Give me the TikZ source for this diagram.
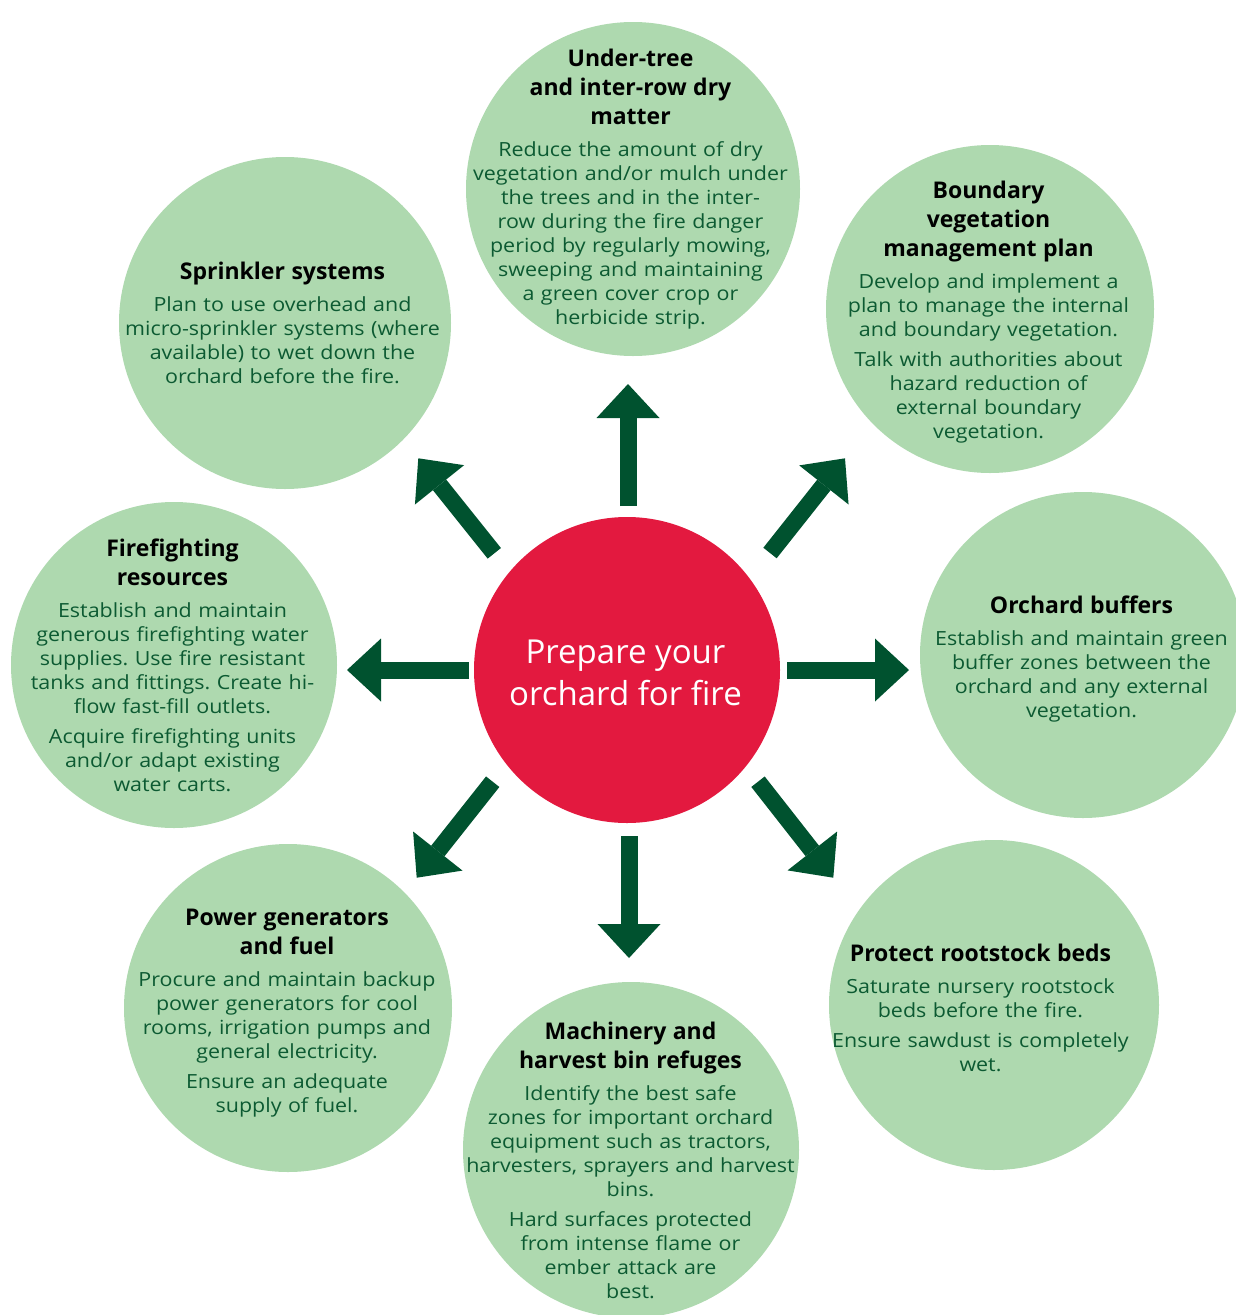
\documentclass[tikz,border=0pt]{standalone}
\usepackage{fontspec}
\setmainfont{Open Sans}
\newfontfamily\bodyface[FakeStretch=1.1]{Open Sans}
\usetikzlibrary{arrows.meta}
\definecolor{leafgreen}{HTML}{AED9AF}
\definecolor{arrowgreen}{HTML}{00522F}
\definecolor{bodygreen}{HTML}{0C5A32}
\definecolor{firered}{HTML}{E3193F}
\setlength\parindent{0pt}
\frenchspacing
\newcommand\bodyfont{\bodyface\fontsize{19.5}{24}\selectfont}
\newcommand\hd[1]{{\normalfont\fontsize{23}{29}\selectfont\bfseries\color{black}#1\par}\vspace{8pt}}
\newcommand\pgap{\par\vspace{6pt}}
\tikzset{
  bubble/.style={circle, fill=leafgreen, inner sep=0pt, minimum size=#1},
  hub/.style={circle, fill=firered, inner sep=0pt, minimum size=306pt},
  blurb/.style={text width=420pt, align=center, inner sep=0pt, text=bodygreen, font=\bodyfont},
  bigarrow/.style={draw=arrowgreen, line width=17pt,
    -{Triangle[width=63pt, length=34pt, line width=0pt]}},
}
\begin{document}
\begin{tikzpicture}[x=1pt, y=-1pt]
\useasboundingbox (0,0) rectangle (1236,1315);
\clip (0,0) rectangle (1236,1315);

% outer circles
\node[bubble=334pt] (c1) at (633,189) {};
\node[bubble=328pt] (c2) at (990,309) {};
\node[bubble=326pt] (c3) at (1083,655) {};
\node[bubble=330pt] (c4) at (994,1005) {};
\node[bubble=336pt] (c5) at (631,1150) {};
\node[bubble=328pt] (c6) at (288,1008) {};
\node[bubble=326pt] (c7) at (174,665) {};
\node[bubble=332pt] (c8) at (285,323) {};

% central circle
\node[hub] (hub) at (627,670) {};
\node[text=white, align=center, font=\fontsize{33}{42}\selectfont] (hubtxt) at (625.5,673)
  {Prepare your\\orchard for fire};

% circle texts
\node[blurb] (t1) at (630.5,189) {\hd{Under-tree\\and inter-row dry\\matter}%
Reduce the amount of dry\\vegetation and/or mulch under\\the trees and in the inter-\\row during the fire danger\\period by regularly mowing,\\sweeping and maintaining\\a green cover crop or\\herbicide strip.};

\node[blurb] (t2) at (988.5,312.5) {\hd{Boundary\\vegetation\\management plan}%
Develop and implement a\\plan to manage the internal\\and boundary vegetation.\pgap
Talk with authorities about\\hazard reduction of\\external boundary\\vegetation.};

\node[blurb] (t3) at (1081.5,659) {\hd{Orchard buffers}%
Establish and maintain green\\buffer zones between the\\orchard and any external\\vegetation.};

\node[blurb] (t4) at (980.5,1008) {\hd{Protect rootstock beds}%
Saturate nursery rootstock\\beds before the fire.\pgap
Ensure sawdust is completely\\wet.};

\node[blurb] (t5) at (630.5,1160) {\hd{Machinery and\\harvest bin refuges}%
Identify the best safe\\zones for important orchard\\equipment such as tractors,\\harvesters, sprayers and harvest\\bins.\pgap
Hard surfaces protected\\from intense flame or\\ember attack are\\best.};

\node[blurb] (t6) at (287,1013) {\hd{Power generators\\and fuel}%
Procure and maintain backup\\power generators for cool\\rooms, irrigation pumps and\\general electricity.\pgap
Ensure an adequate\\supply of fuel.};

\node[blurb] (t7) at (172.5,665.5) {\hd{Firefighting\\resources}%
Establish and maintain\\generous firefighting water\\supplies. Use fire resistant\\tanks and fittings. Create hi-\\flow fast-fill outlets.\pgap
Acquire firefighting units\\and/or adapt existing\\water carts.};

\node[blurb] (t8) at (282.5,323) {\hd{Sprinkler systems}%
Plan to use overhead and\\micro-sprinkler systems (where\\available) to wet down the\\orchard before the fire.};

% arrow anchors
\coordinate (aNs) at (628,506);   \coordinate (aNe) at (628,384);
\coordinate (aSs) at (629,836);   \coordinate (aSe) at (629,958);
\coordinate (aWs) at (469,670);   \coordinate (aWe) at (347,670);
\coordinate (aEs) at (787,670);   \coordinate (aEe) at (909,670);
\coordinate (aNWs) at (494.3,553.3); \coordinate (aNWe) at (418.3,458.3);
\coordinate (aNEs) at (770,553);     \coordinate (aNEe) at (845,458.3);
\coordinate (aSWs) at (492.7,781.7); \coordinate (aSWe) at (416.7,877.7);
\coordinate (aSEs) at (758,781.7);   \coordinate (aSEe) at (833.3,877.7);

\foreach \d in {N,S,W,E,NW,NE,SW,SE}
  \draw[bigarrow] (a\d s) -- (a\d e);
\end{tikzpicture}
\end{document}
